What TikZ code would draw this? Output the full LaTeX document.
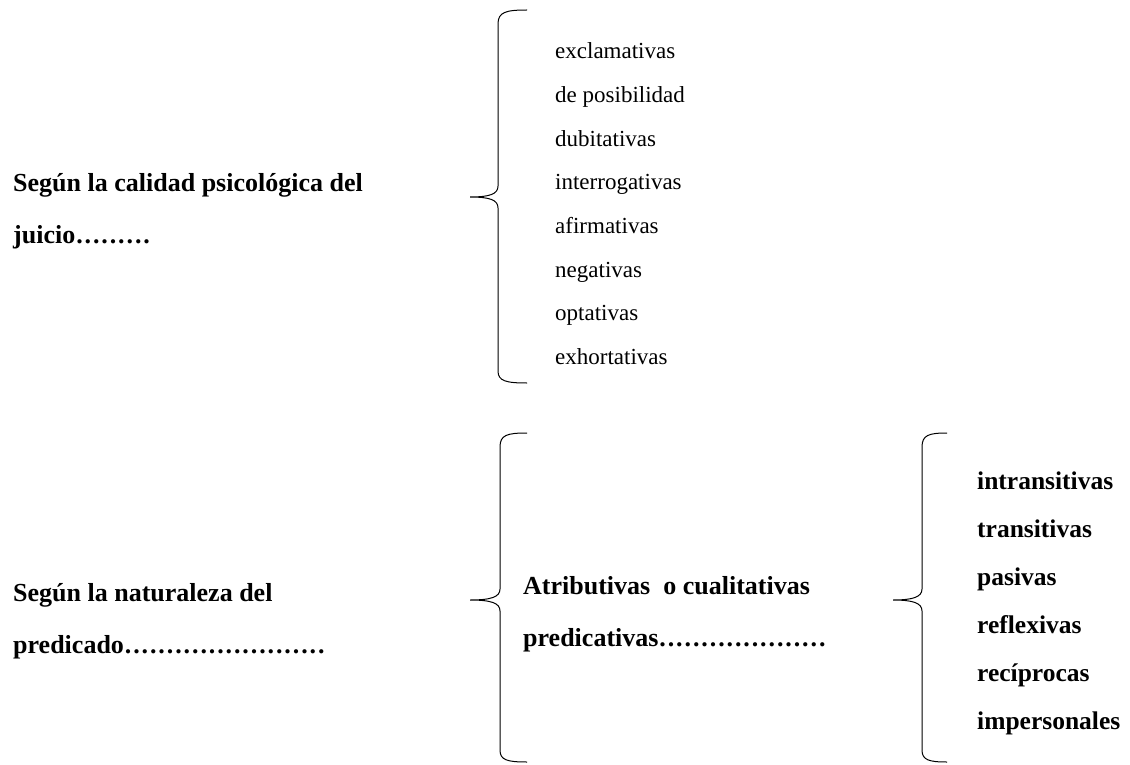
\documentclass[tikz,border=0pt]{standalone}
\usepackage{fontspec}
\setmainfont{Liberation Serif}
\usetikzlibrary{positioning}
\newcommand\puntos[1]{\hbox{\leaders\hbox to 8.4pt{\hss.\hss}\hskip#1\dimexpr8.4pt\relax}}

\begin{document}
\begin{tikzpicture}[
    x=1pt,y=-1pt,
    every node/.style={inner sep=0pt,anchor=west,align=left},
    titulo/.style={font=\fontsize{26}{52}\selectfont\bfseries},
    item/.style={anchor=base west,font=\fontsize{23}{26}\selectfont},
    itemb/.style={anchor=base west,font=\fontsize{25.5}{30}\selectfont\bfseries},
    llave/.style={line width=1pt}
]
\useasboundingbox (0,0) rectangle (1130,765);

% left column
\node[titulo] (calidad) at (13,211)
  {Según la calidad psicológica del\\juicio\puntos{9}};
\node[titulo] (naturaleza) at (13,621)
  {Según la naturaleza del\\predicado\puntos{24}};

% first brace and its list
\draw[llave] (527,10) .. controls (506,10) and (498,12) .. (498,24)
  -- (498,186) .. controls (498,194) and (490,197) .. (470,197)
  .. controls (490,197) and (498,200) .. (498,208)
  -- (498,371) .. controls (498,381) and (506,383) .. (527,383);
\foreach \txt [count=\i from 0] in {exclamativas,de posibilidad,dubitativas,
    interrogativas,afirmativas,negativas,optativas,exhortativas}
  \node[item] (clase\i) at (555,59+43.6*\i) {\txt};

% second brace
\draw[llave] (527,433) .. controls (507,433) and (500,435) .. (500,447)
  -- (500,589) .. controls (500,597) and (491,600) .. (470,600)
  .. controls (491,600) and (500,603) .. (500,611)
  -- (500,750) .. controls (500,760) and (507,762) .. (527,762);
\node[titulo] (atributivas) at (523,614)
  {Atributivas\ \ o cualitativas\\predicativas\puntos{20}};

% third brace and its list
\draw[llave] (947,433) .. controls (929,433) and (922,435) .. (922,447)
  -- (922,589) .. controls (922,597) and (913,600) .. (893,600)
  .. controls (913,600) and (922,603) .. (922,611)
  -- (922,750) .. controls (922,760) and (929,762) .. (947,762);
\foreach \txt [count=\i from 0] in {intransitivas,transitivas,pasivas,
    reflexivas,recíprocas,impersonales}
  \node[itemb] (verbo\i) at (977,489+48*\i) {\txt};
\end{tikzpicture}
\end{document}
